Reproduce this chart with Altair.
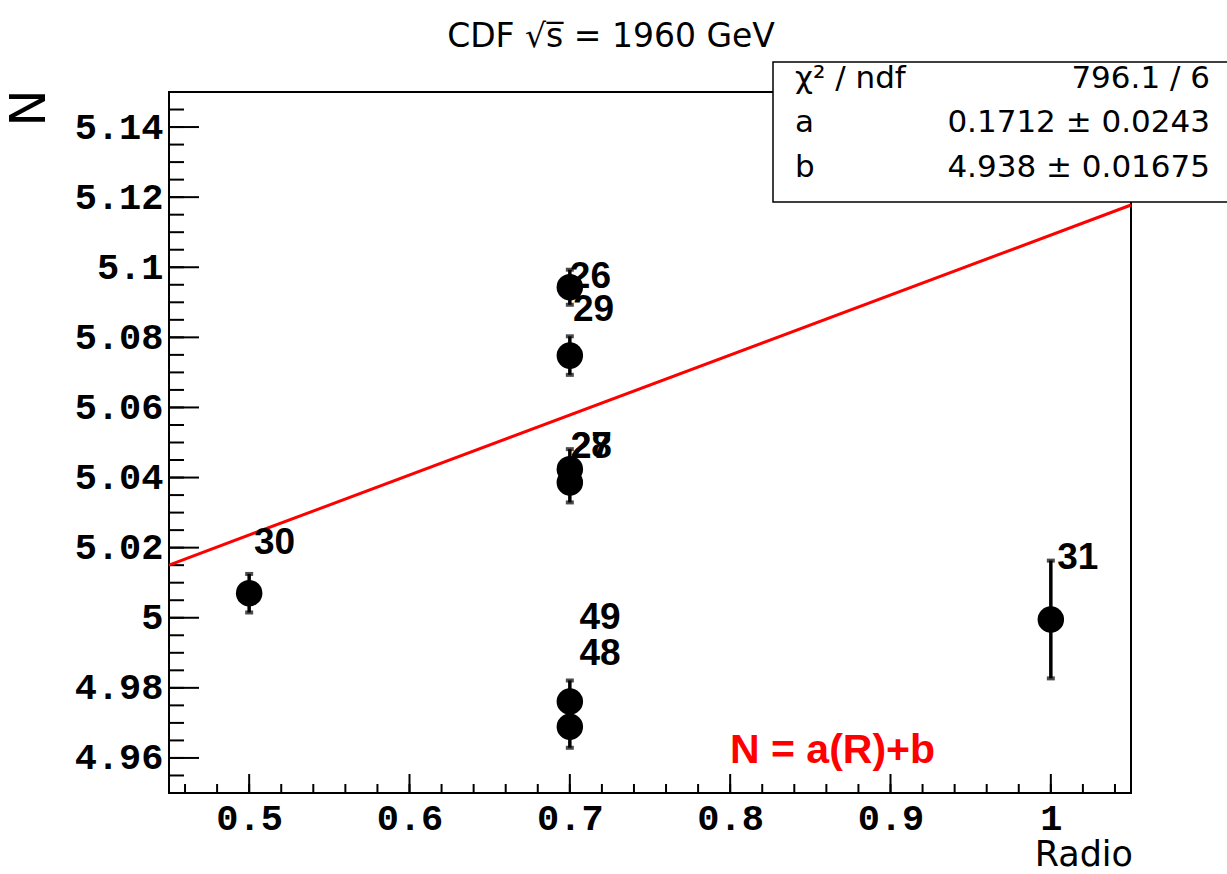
import altair as alt
import numpy as np
import pandas as pd

# Measured points: run number, radius R, N and its uncertainty
run_ids = ["30", "26", "29", "27", "28", "49", "48", "31"]
radius_r = [0.5, 0.7, 0.7, 0.7, 0.7, 0.7, 0.7, 1.0]
n_value = [5.0070, 5.0943, 5.0748, 5.0424, 5.0386, 4.9761, 4.9689, 4.9995]
n_error = [0.0055, 0.0050, 0.0055, 0.0057, 0.0057, 0.0060, 0.0060, 0.0168]

# Where each run number is written (data units)
label_r = [0.503, 0.700, 0.702, 0.7005, 0.7005, 0.706, 0.706, 1.004]
label_n = [5.0183, 5.0942, 5.0846, 5.0455, 5.0455, 4.9967, 4.9866, 5.0139]

# Linear fit N = a*R + b
fit_a = 0.1712
fit_b = 4.938
stat_names = ["\u03c7\u00b2 / ndf", "a", "b"]
stat_values = ["796.1 / 6", "0.1712 \u00b1 0.0243", "4.938 \u00b1 0.01675"]

x_range = [0.45, 1.05]
y_range = [4.95, 5.15]
x_ticks = [0.5, 0.6, 0.7, 0.8, 0.9, 1.0]
y_ticks = [4.96, 4.98, 5.0, 5.02, 5.04, 5.06, 5.08, 5.1, 5.12, 5.14]

W, H = 962, 701
SANS = "DejaVu Sans"
BOLD = "Liberation Sans"
MONO = "Liberation Mono"

xs = alt.Scale(domain=x_range, nice=False, zero=False)
ys = alt.Scale(domain=y_range, nice=False, zero=False)
xa = alt.Axis(values=x_ticks, format="~g", title=None, ticks=False, domain=False, grid=False,
              labelFont=MONO, labelFontWeight="bold", labelFontSize=37, labelColor="black",
              labelPadding=7, labelFlush=False)
ya = alt.Axis(values=y_ticks, format="~g", title=None, ticks=False, domain=False, grid=False,
              labelFont=MONO, labelFontWeight="bold", labelFontSize=37, labelColor="black",
              labelPadding=6, labelFlush=False)


def X(field):
    return alt.X(field, type="quantitative", scale=xs, axis=xa)


def Y(field):
    return alt.Y(field, type="quantitative", scale=ys, axis=ya)


pts = pd.DataFrame({
    "run": run_ids, "R": radius_r, "N": n_value,
    "lo": np.array(n_value) - np.array(n_error),
    "hi": np.array(n_value) + np.array(n_error),
    "lr": label_r, "ln": label_n,
})

one = pd.DataFrame({"k": [0]})

frame = alt.Chart(one).mark_rect(fillOpacity=0, stroke="black", strokeWidth=2).encode(
    x=alt.X(datum=x_range[0], type="quantitative", scale=xs, axis=xa),
    x2=alt.X2(datum=x_range[1]),
    y=alt.Y(datum=y_range[0], type="quantitative", scale=ys, axis=ya),
    y2=alt.Y2(datum=y_range[1]),
)

# Ticks drawn inside the frame
y_minor = pd.DataFrame({"v": np.round(np.arange(4.95, 5.1501, 0.005), 4)})
x_minor = pd.DataFrame({"v": np.round(np.arange(0.46, 1.0401, 0.02), 4)})
y_major = pd.DataFrame({"v": y_ticks})
x_major = pd.DataFrame({"v": x_ticks})

ytick_minor = alt.Chart(y_minor).mark_rule(color="black", strokeWidth=2).encode(
    y=Y("v"), x=alt.value(0), x2=alt.value(15))
ytick_major = alt.Chart(y_major).mark_rule(color="black", strokeWidth=2).encode(
    y=Y("v"), x=alt.value(0), x2=alt.value(30))
xtick_minor = alt.Chart(x_minor).mark_rule(color="black", strokeWidth=2).encode(
    x=X("v"), y=alt.value(H), y2=alt.value(H - 9))
xtick_major = alt.Chart(x_major).mark_rule(color="black", strokeWidth=2).encode(
    x=X("v"), y=alt.value(H), y2=alt.value(H - 19))

fit_df = pd.DataFrame({"R": x_range})
fit_df["N"] = fit_a * fit_df["R"] + fit_b
fit_line = alt.Chart(fit_df).mark_line(color="#ff0000", strokeWidth=3).encode(x=X("R"), y=Y("N"))

err_bars = alt.Chart(pts).mark_rule(color="black", strokeWidth=3.5).encode(
    x=X("R"), y=Y("lo"), y2="hi")
caps_lo = alt.Chart(pts).mark_tick(color="black", orient="horizontal", size=8, thickness=4).encode(
    x=X("R"), y=Y("lo"))
caps_hi = alt.Chart(pts).mark_tick(color="black", orient="horizontal", size=8, thickness=4).encode(
    x=X("R"), y=Y("hi"))
dots = alt.Chart(pts).mark_circle(color="black", opacity=1, size=700).encode(x=X("R"), y=Y("N"))

run_text = alt.Chart(pts).mark_text(font=BOLD, fontWeight="bold", fontSize=37, align="left",
                                    baseline="alphabetic", color="black").encode(
    x=X("lr"), y=Y("ln"), text="run:N")

formula = alt.Chart(pd.DataFrame({"t": ["N = a(R)+b"]})).mark_text(
    font=BOLD, fontWeight="bold", fontSize=41, align="left", baseline="alphabetic", color="#ff0000"
).encode(x=alt.value(561), y=alt.value(671), text="t:N")

# Fit statistics box
stat_box = alt.Chart(one).mark_rect(fill="white", stroke="black", strokeWidth=1.5).encode(
    x=alt.value(604), x2=alt.value(1070), y=alt.value(-30), y2=alt.value(110))
stat_layers = []
for i, (name, val) in enumerate(zip(stat_names, stat_values)):
    row_y = [-4, 40, 85][i]
    stat_layers.append(alt.Chart(pd.DataFrame({"t": [name]})).mark_text(
        font=SANS, fontSize=31, align="left", baseline="alphabetic", color="black"
    ).encode(x=alt.value(626), y=alt.value(row_y), text="t:N"))
    stat_layers.append(alt.Chart(pd.DataFrame({"t": [val]})).mark_text(
        font=SANS, fontSize=31, align="right", baseline="alphabetic", color="black"
    ).encode(x=alt.value(1041), y=alt.value(row_y), text="t:N"))

title = alt.Chart(pd.DataFrame({"t": ["CDF  \u221as\u0305 = 1960 GeV"]})).mark_text(
    font=SANS, fontSize=33, align="center", baseline="alphabetic", color="black"
).encode(x=alt.value(442), y=alt.value(-45), text="t:N")
y_title = alt.Chart(pd.DataFrame({"t": ["N"]})).mark_text(
    font=SANS, fontSize=50, align="center", baseline="middle", angle=270, color="black"
).encode(x=alt.value(-139), y=alt.value(16), text="t:N")
x_title = alt.Chart(pd.DataFrame({"t": ["Radio"]})).mark_text(
    font=SANS, fontSize=35, align="right", baseline="alphabetic", color="black"
).encode(x=alt.value(964), y=alt.value(774), text="t:N")

chart = alt.layer(
    frame, ytick_minor, ytick_major, xtick_minor, xtick_major,
    fit_line, err_bars, caps_lo, caps_hi, dots, run_text, formula,
    stat_box, *stat_layers, title, y_title, x_title,
).properties(
    width=W, height=H,
    padding={"left": 169, "top": 92, "right": 1227 - 169 - W, "bottom": 874 - 92 - H},
    autosize=alt.AutoSizeParams(type="none"),
    background="white",
).configure_view(stroke=None)

chart.save("out.html", embed_options={"renderer": "svg", "actions": False})
